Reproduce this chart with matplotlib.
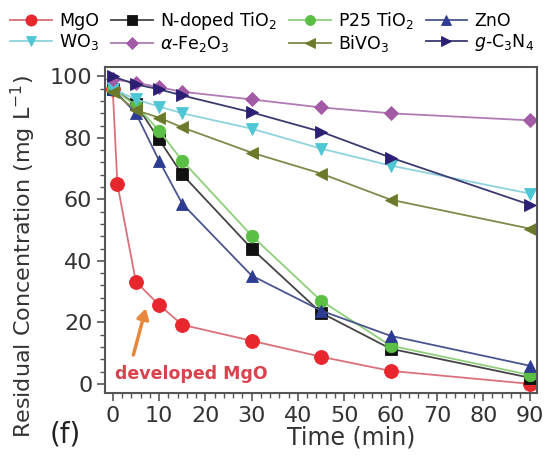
import numpy as np
import matplotlib
matplotlib.use('Agg')
import matplotlib.pyplot as plt
from matplotlib.ticker import MultipleLocator, AutoMinorLocator

# data
time = [0, 5, 10, 15, 30, 45, 60, 90]
time_mgo = [0, 1, 5, 10, 15, 30, 45, 60, 90]
mgo = [96, 65, 33.2, 25.7, 19.2, 14.0, 8.8, 4.2, 0]
n_tio2 = [96, 91, 79.5, 68.1, 44, 23.1, 11.4, 2]
p25_tio2 = [96, 90.5, 82.4, 72.6, 48.2, 27, 12.4, 2.9]
zno = [96, 88, 72.6, 58.6, 35.2, 23.8, 15.6, 5.9]
wo3 = [96, 92.5, 90.2, 88, 83, 76.5, 71, 61.9]
fe2o3 = [99, 98, 96.5, 95, 92.5, 89.9, 88, 85.7]
bivo3 = [95, 89, 86.6, 83.4, 75.2, 68.4, 59.9, 50.5]
gc3n4 = [100, 97.4, 95.8, 93.8, 88.3, 82, 73.6, 58.3]


def main():
    fig = plt.figure(figsize=(5.49, 4.57), dpi=100)
    ax = fig.add_axes([0.191, 0.140, 0.787, 0.713])

    # (x, y, label, marker, face colour, line colour)
    series = [
        (time_mgo, mgo, 'MgO', 'o', '#e8262e', '#d9707a'),
        (time, n_tio2, 'N-doped TiO$_2$', 's', '#111111', '#444444'),
        (time, p25_tio2, 'P25 TiO$_2$', 'o', '#5cbf45', '#8fcf7a'),
        (time, zno, 'ZnO', '^', '#2d3c92', '#4a5590'),
        (time, wo3, 'WO$_3$', 'v', '#4fc6d3', '#8fd3dd'),
        (time, fe2o3, r'$\alpha$-Fe$_2$O$_3$', 'D', '#a35aa5', '#b07ab5'),
        (time, bivo3, 'BiVO$_3$', '<', '#6b7a2a', '#7e8a4a'),
        (time, gc3n4, '$g$-C$_3$N$_4$', '>', '#2a1f73', '#3a3a70'),
    ]
    handles = []
    for x, y, lab, mk, fc, lc in series:
        ms = 10 if lab == 'MgO' else 9
        if mk == 'D':
            ms = 7.5
        h, = ax.plot(x, y, '-', color=lc, lw=1.3, marker=mk, ms=ms,
                     mfc=fc, mec=fc, mew=0.6, label=lab)
        handles.append(h)

    # legend is filled column by column, so reorder to read row by row
    order = [0, 4, 1, 5, 2, 6, 3, 7]
    leg_handles = []
    for i in order:
        leg_handles.append(handles[i])
    fig.legend(leg_handles, [h.get_label() for h in leg_handles],
               ncol=4, loc='upper left', bbox_to_anchor=(0.0, 1.0),
               frameon=False, fontsize=12.5, handlelength=2.4,
               handletextpad=0.4, columnspacing=0.7, labelspacing=0.1,
               borderaxespad=0.3, borderpad=0.3, markerscale=0.8)

    ax.set_xlim(-1.7, 91.6)
    ax.set_ylim(-3, 103)
    ax.xaxis.set_major_locator(MultipleLocator(10))
    ax.xaxis.set_minor_locator(AutoMinorLocator(5))
    ax.yaxis.set_major_locator(MultipleLocator(20))
    ax.yaxis.set_minor_locator(AutoMinorLocator(5))
    ax.tick_params(which='major', length=6, width=1.2, color='#555555',
                   labelsize=16, labelcolor='#333333', pad=3)
    ax.tick_params(which='minor', length=3.5, width=1.0, color='#555555')
    for sp in ax.spines.values():
        sp.set_color('#555555')
        sp.set_linewidth(1.5)

    ax.set_xlabel('Time (min)', fontsize=17, color='#333333')
    ax.xaxis.set_label_coords(0.57, -0.1)
    ax.set_ylabel('Residual Concentration (mg L$^{-1}$)', fontsize=16,
                  color='#333333')
    ax.yaxis.set_label_coords(-0.155, 0.42)

    ax.annotate('', xy=(7.3, 25.4), xytext=(4.3, 8.5),
                arrowprops=dict(arrowstyle='-|>,head_width=0.35,head_length=0.6',
                                color='#e8873a', lw=2.5))
    ax.text(0.4, 3.3, 'developed MgO', color='#d9434e', fontsize=12.5,
            fontweight='bold', va='center', ha='left')

    fig.text(0.091, 0.031, '(f)', fontsize=20, color='#222222')

    fig.savefig('out.png', dpi=100)


if __name__ == '__main__':
    plt.close('all')
    main()
